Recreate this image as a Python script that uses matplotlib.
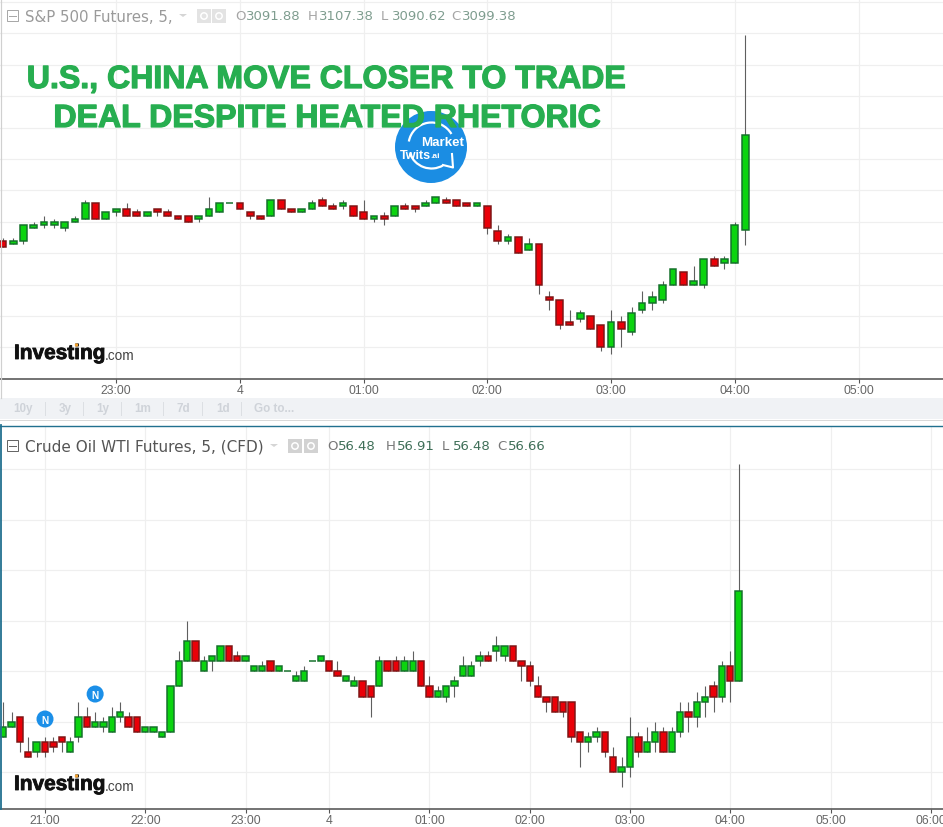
import numpy as np
import matplotlib
matplotlib.use("Agg")
import matplotlib.pyplot as plt
import matplotlib.patheffects as pe
from matplotlib.patches import Circle, Rectangle, Arc, Polygon

W, H = 943, 828

# S&P 500 futures, 5 minute bars
spx_open = [3091, 3090.75, 3091, 3092, 3092.25, 3092.25, 3092, 3092.5, 3092.75, 3094, 3092.75, 3093.25, 3093.5,
            3093.25, 3093, 3093.5, 3093.25, 3093, 3093, 3092.75, 3093, 3093.25, 3094, 3094, 3093.25, 3093, 3093,
            3094.25, 3093.5, 3093.25, 3093.5, 3094.25, 3093.75, 3093.75, 3093.75, 3093.25, 3092.75, 3093, 3093,
            3093.75, 3093.75, 3093.75, 3094, 3094.25, 3094.25, 3094, 3093.75, 3093.75, 3091.75, 3091, 3091.25,
            3090.25, 3090.75, 3086.5, 3086.25, 3084.5, 3084.75, 3085, 3084.25, 3082.5, 3084.5, 3083.75, 3085.5,
            3086, 3086.25, 3087.5, 3088.5, 3087.5, 3087.5, 3089.5, 3089.25, 3089.25, 3091.88]
spx_high = [3091.25, 3091.25, 3092.25, 3092.5, 3093, 3092.75, 3092.5, 3093, 3094.25, 3094, 3093.25, 3093.5, 3094,
            3093.5, 3093.25, 3093.5, 3093.5, 3093, 3093, 3093, 3094.5, 3094, 3094, 3094, 3093.25, 3093, 3094.25,
            3094.25, 3093.5, 3093.5, 3094.25, 3094.5, 3094, 3094.25, 3093.75, 3094.25, 3093, 3093.25, 3093.75,
            3094, 3093.75, 3094.25, 3094.5, 3094.5, 3094.25, 3094, 3094, 3093.75, 3092.25, 3091.5, 3091.25,
            3091.25, 3090.75, 3087, 3086.25, 3085.5, 3085.5, 3085, 3084.25, 3085.5, 3085, 3085.75, 3087,
            3087, 3087.75, 3088.75, 3088.5, 3089, 3089.5, 3089.75, 3089.75, 3092.5, 3107.38]
spx_low = [3090.5, 3090.75, 3090.75, 3092, 3092, 3092, 3091.75, 3092.5, 3092.75, 3092.75, 3092.75, 3093, 3093,
           3093, 3093, 3093, 3093, 3092.75, 3092.5, 3092.5, 3093, 3093.25, 3094, 3093.5, 3092.75, 3092.75, 3093,
           3093.5, 3093.25, 3093.25, 3093.5, 3093.75, 3093.5, 3093.5, 3093, 3092.75, 3092.5, 3092.25, 3093,
           3093.5, 3093.25, 3093.75, 3094, 3094, 3093.75, 3093.75, 3093.75, 3091.5, 3090.75, 3090.75, 3090,
           3090.25, 3086.75, 3085.5, 3084, 3084.25, 3084.5, 3084, 3082.25, 3082, 3082.5, 3083.5, 3085.25,
           3085.5, 3086, 3087.5, 3087.5, 3087.5, 3087.25, 3089, 3088.75, 3089.25, 3090.62]
spx_close = [3090.5, 3091, 3092.25, 3092.25, 3092.5, 3092.5, 3092.5, 3092.75, 3094, 3092.75, 3093.25, 3093.5, 3093,
             3093, 3093.25, 3093.25, 3093, 3092.75, 3092.5, 3093, 3093.5, 3094, 3094, 3093.5, 3093, 3092.75, 3094.25,
             3093.5, 3093.25, 3093.5, 3094, 3093.75, 3093.5, 3094, 3093, 3092.75, 3093, 3092.75, 3093.75,
             3093.5, 3093.5, 3094, 3094.5, 3094, 3093.75, 3093.75, 3094, 3092, 3091, 3091.25, 3090,
             3090.75, 3087.5, 3086.25, 3084.25, 3084.25, 3085.25, 3084, 3082.5, 3084.5, 3084, 3085.25, 3086,
             3086.5, 3087.5, 3088.75, 3087.5, 3087.75, 3089.5, 3089, 3089.5, 3092.25, 3099.38]
spx_first_bar = -11
spx_ticks = [0, 12, 24, 36, 48, 60, 72]
spx_labels = ["23:00", "4", "01:00", "02:00", "03:00", "04:00", "05:00"]
spx_grid = [3082.5, 3085, 3087.5, 3090, 3092.5, 3095, 3097.5, 3100, 3102.5, 3105, 3107.5, 3110]

# crude oil futures, 5 minute bars
wti_open = [56.37, 56.39, 56.41, 56.34, 56.34, 56.36, 56.36, 56.37, 56.34, 56.37, 56.41, 56.39, 56.39, 56.38, 56.41,
            56.41, 56.41, 56.38, 56.38, 56.37, 56.38, 56.47, 56.52, 56.56, 56.50, 56.52, 56.52, 56.55, 56.53, 56.52,
            56.50, 56.50, 56.52, 56.50, 56.50, 56.48, 56.48, 56.52, 56.52, 56.52, 56.50, 56.48, 56.47, 56.48, 56.47,
            56.47, 56.52, 56.52, 56.50, 56.50, 56.52, 56.47, 56.45, 56.45, 56.47, 56.49, 56.49, 56.52, 56.53, 56.54,
            56.53, 56.55, 56.52, 56.51, 56.47, 56.45, 56.45, 56.44, 56.44, 56.38, 56.36, 56.37, 56.38, 56.33, 56.30,
            56.31, 56.37, 56.34, 56.36, 56.38, 56.34, 56.38, 56.42, 56.41, 56.44, 56.47, 56.45, 56.51, 56.48]
wti_high = [56.44, 56.42, 56.41, 56.37, 56.36, 56.37, 56.37, 56.37, 56.37, 56.44, 56.43, 56.42, 56.41, 56.43, 56.44,
            56.42, 56.41, 56.39, 56.39, 56.38, 56.47, 56.54, 56.60, 56.56, 56.53, 56.53, 56.55, 56.55, 56.54, 56.53,
            56.51, 56.52, 56.52, 56.51, 56.50, 56.50, 56.51, 56.52, 56.53, 56.52, 56.52, 56.49, 56.49, 56.48, 56.47,
            56.53, 56.52, 56.53, 56.53, 56.54, 56.52, 56.49, 56.47, 56.47, 56.49, 56.53, 56.52, 56.54, 56.54, 56.57,
            56.55, 56.55, 56.52, 56.52, 56.49, 56.45, 56.45, 56.44, 56.44, 56.38, 56.38, 56.39, 56.38, 56.35, 56.33,
            56.41, 56.38, 56.39, 56.40, 56.39, 56.39, 56.44, 56.44, 56.46, 56.47, 56.48, 56.52, 56.54, 56.91]
wti_low = [56.37, 56.39, 56.34, 56.33, 56.33, 56.33, 56.34, 56.34, 56.34, 56.36, 56.39, 56.39, 56.38, 56.38, 56.40,
           56.39, 56.38, 56.38, 56.38, 56.37, 56.38, 56.47, 56.52, 56.52, 56.50, 56.50, 56.52, 56.52, 56.52, 56.52,
           56.50, 56.50, 56.50, 56.50, 56.50, 56.48, 56.48, 56.52, 56.52, 56.50, 56.49, 56.48, 56.47, 56.45, 56.41,
           56.47, 56.50, 56.50, 56.50, 56.50, 56.47, 56.45, 56.45, 56.44, 56.45, 56.49, 56.49, 56.51, 56.52, 56.52,
           56.52, 56.52, 56.48, 56.47, 56.45, 56.42, 56.42, 56.41, 56.36, 56.31, 56.34, 56.36, 56.33, 56.30, 56.27,
           56.29, 56.33, 56.34, 56.34, 56.34, 56.34, 56.37, 56.38, 56.39, 56.41, 56.42, 56.44, 56.44, 56.48]
wti_close = [56.39, 56.40, 56.36, 56.33, 56.36, 56.34, 56.35, 56.36, 56.36, 56.41, 56.39, 56.40, 56.40, 56.41, 56.42,
             56.39, 56.38, 56.39, 56.39, 56.38, 56.47, 56.52, 56.56, 56.52, 56.52, 56.53, 56.55, 56.52, 56.52, 56.53,
             56.51, 56.51, 56.50, 56.51, 56.50, 56.49, 56.50, 56.52, 56.53, 56.50, 56.49, 56.49, 56.48, 56.45, 56.45,
             56.52, 56.50, 56.50, 56.52, 56.52, 56.47, 56.45, 56.46, 56.47, 56.48, 56.51, 56.51, 56.53, 56.52, 56.55,
             56.55, 56.52, 56.51, 56.48, 56.45, 56.44, 56.42, 56.42, 56.37, 56.36, 56.37, 56.38, 56.34, 56.30, 56.31,
             56.37, 56.34, 56.36, 56.38, 56.34, 56.38, 56.42, 56.41, 56.44, 56.45, 56.45, 56.51, 56.48, 56.66]
wti_first_bar = -5
wti_ticks = [0, 12, 24, 34, 46, 58, 70, 82, 94, 106]
wti_labels = ["21:00", "22:00", "23:00", "4", "01:00", "02:00", "03:00", "04:00", "05:00", "06:00"]
wti_grid = [56.3, 56.4, 56.5, 56.6, 56.7, 56.8, 56.9]
news_bars = [0, 6]
news_prices = [56.4055, 56.455]

title_lines = ["U.S., CHINA MOVE CLOSER TO TRADE", "DEAL DESPITE HEATED RHETORIC"]
range_labels = ["10y", "3y", "1y", "1m", "7d", "1d", "Go to..."]

UP, UP_EDGE = "#0bd40f", "#14702a"
DOWN, DOWN_EDGE = "#ea0008", "#7d1515"
PX = 0.72
AXIS_TOP = 380.3
AXIS_BOT = 810.3


def candles(ax, first, o, h, l, c, width):
    o, h, l, c = map(np.array, (o, h, l, c))
    x = first + np.arange(len(o))
    up = c >= o
    ax.vlines(x, l, h, color="#5f5f5f", lw=1.1 * PX, zorder=3)
    ax.bar(x, np.abs(c - o), width, bottom=np.minimum(o, c), color=np.where(up, UP, DOWN),
           edgecolor=np.where(up, UP_EDGE, DOWN_EDGE), linewidth=1.5 * PX, zorder=4)


def style_axis(ax, ticks, labels, grid):
    ax.set_xticks(ticks, labels)
    ax.set_yticks(grid)
    ax.grid(True, color="#efefef", lw=1.2 * PX, zorder=0)
    ax.set_axisbelow(True)
    for s in ["top", "left", "right"]:
        ax.spines[s].set_visible(False)
    ax.spines["bottom"].set_color("#555555")
    ax.spines["bottom"].set_linewidth(1.6 * PX)
    ax.tick_params(axis="x", length=3, width=1.1 * PX, color="#555555", labelcolor="#666666",
                   labelsize=8.8, pad=0.5)
    ax.tick_params(axis="y", length=0, labelleft=False)
    for t in ax.get_xticklabels():
        t.set_family("Liberation Sans")


fig = plt.figure(figsize=(W / 100, H / 100), dpi=100, facecolor="white")

# top panel
ax1 = fig.add_axes([0, 1 - AXIS_TOP / H, 1, AXIS_TOP / H])
candles(ax1, spx_first_bar, spx_open, spx_high, spx_low, spx_close, 0.66)
style_axis(ax1, spx_ticks, spx_labels, spx_grid)
ax1.set_xlim(-116.2 / 10.31, (W - 116.2) / 10.31)
ax1.set_ylim(3107.5 - (AXIS_TOP - 34.4) / 12.56, 3107.5 + 34.4 / 12.56)

# bottom panel
ax2 = fig.add_axes([0, 1 - AXIS_BOT / H, 1, (AXIS_BOT - 427) / H])
candles(ax2, wti_first_bar, wti_open, wti_high, wti_low, wti_close, 0.76)
style_axis(ax2, wti_ticks, wti_labels, wti_grid)
ax2.set_xlim(-45 / 8.357, (W - 45) / 8.357)
ax2.set_ylim(56.9 - (AXIS_BOT - 470.3) / 505, 56.9 + (470.3 - 427) / 505)
ax2.scatter(news_bars, news_prices, s=150, color="#1b8fe8", edgecolor="none", zorder=5)
for bx, py in zip(news_bars, news_prices):
    ax2.text(bx, py - 0.001, "N", color="white", fontsize=7.2, fontweight="bold", ha="center", va="center",
             family="Liberation Sans", zorder=6)

# everything that is not price data goes on an overlay in pixel coordinates
ov = fig.add_axes([0, 0, 1, 1], zorder=10)
ov.set_xlim(0, W)
ov.set_ylim(H, 0)
ov.axis("off")

ov.add_patch(Rectangle((0, 399), W, 21, color="#f0f2f5", lw=0))
ov.plot([0, W], [420.5, 420.5], color="#d9d9d9", lw=PX)
ov.plot([0.7, 0.7], [0, 399], color="#d0d0d0", lw=1.2 * PX)
ov.plot([0, W], [426.5, 426.5], color="#21708f", lw=1.4 * PX)
ov.plot([0.8, 0.8], [426, 810], color="#21708f", lw=1.8 * PX)

range_x = [23, 65, 103, 143, 183, 223, 274]
for tx, lab in zip(range_x, range_labels):
    ov.text(tx, 409.5, lab, color="#cfd3d9", fontsize=8.4, fontweight="bold", ha="center", va="center",
            family="Liberation Sans")
for sx in [45, 83, 121, 163, 202, 241]:
    ov.plot([sx, sx], [403, 416], color="#dcdfe3", lw=PX)


def header(y, name, size, name_col, box_col, caret_x, icon_x, icon_col, parts, let_col, num_col):
    ov.add_patch(Rectangle((7, y - 6), 11, 11, fc="white", ec=box_col, lw=PX))
    ov.plot([9, 16], [y - 0.5, y - 0.5], color=box_col, lw=PX)
    ov.text(25, y, name, color=name_col, fontsize=size, va="center", family="DejaVu Sans")
    ov.add_patch(Polygon([(caret_x - 4, y - 2), (caret_x + 4, y - 2), (caret_x, y + 1)], color="#d5d5d5", lw=0))
    for ix in icon_x:
        ov.add_patch(Rectangle((ix, y - 7), 14, 14, color=icon_col, lw=0))
        ov.add_patch(Circle((ix + 7, y), 3.2, fc=icon_col, ec="white", lw=1.1))
    for px, letter, value in parts:
        ov.text(px, y, letter, color=let_col, fontsize=9.5, va="center", family="DejaVu Sans")
        ov.text(px + 11, y, value, color=num_col, fontsize=9.5, va="center", family="DejaVu Sans")


header(17, "S&P 500 Futures, 5,", 10.8, "#9a9a9a", "#a8a8a8", 183, [197, 212], "#e3e3e3",
       [(235, "O", "3091.88"), (308, "H", "3107.38"), (381, "L", "3090.62"), (451, "C", "3099.38")],
       "#a5a5a5", "#7f9d8f")
header(447, "Crude Oil WTI Futures, 5, (CFD)", 11.0, "#555555", "#666666", 274, [288, 304], "#d2d2d2",
       [(327, "O", "56.48"), (386, "H", "56.91"), (442, "L", "56.48"), (497, "C", "56.66")],
       "#777777", "#3f6f58")

# logo behind the headline
ov.add_patch(Circle((431, 148), 36, color="#1b8de3", lw=0))
ov.add_patch(Arc((431.5, 146.5), 46, 46, theta1=190, theta2=330, color="white", lw=1.6))
ov.add_patch(Arc((431.5, 146.5), 46, 46, theta1=60, theta2=160, color="white", lw=1.6))
ov.plot([443, 453, 452], [166, 168.5, 155], color="white", lw=1.5)
ov.text(443, 143, "Market", color="white", fontsize=9.6, fontweight="bold", ha="center", va="center",
        family="Liberation Sans")
ov.text(415, 156, "Twits", color="white", fontsize=9, fontweight="bold", ha="center", va="center",
        family="Liberation Sans")
ov.text(435, 156.5, ".ai", color="white", fontsize=6, fontweight="bold", ha="center", va="center",
        family="Liberation Sans")

# headline, a bit heavier than plain bold
heavy = [pe.withStroke(linewidth=0.9, foreground="#27ae50")]
ov.text(326.5, 81, title_lines[0], color="#27ae50", fontsize=23.1, fontweight="bold", ha="center", va="center",
        family="Liberation Sans", path_effects=heavy)
ov.text(327, 120, title_lines[1], color="#27ae50", fontsize=23.1, fontweight="bold", ha="center", va="center",
        family="Liberation Sans", path_effects=heavy)

# Investing.com marks
for ly in [354.5, 785.5]:
    ov.text(14, ly, "Investing", color="#111111", fontsize=15, fontweight="bold", va="center",
            family="Liberation Sans", path_effects=[pe.withStroke(linewidth=0.6, foreground="#111111")])
    ov.text(105, ly + 1.5, ".com", color="#444444", fontsize=9.8, va="center", family="Liberation Sans")
    ov.add_patch(Circle((76.5, ly - 8.5), 1.7, color="#f0a030", lw=0, zorder=5))

fig.savefig("out.png", dpi=100)
